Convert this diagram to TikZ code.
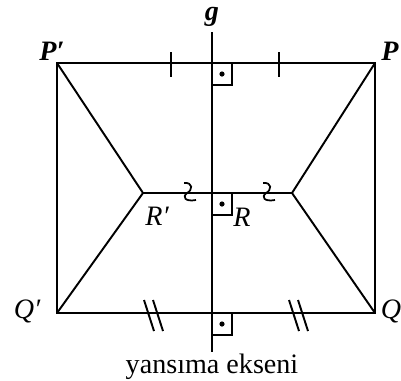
\documentclass[tikz,border=0pt]{standalone}
\usepackage{fontspec}
\setmainfont{Liberation Serif}
\usepackage{tikz}
\usetikzlibrary{calc}
\tikzset{
  edge/.style={line width=1.1pt},
  lbl/.style={font=\fontsize{16}{18}\selectfont\itshape,inner sep=0pt},
  blbl/.style={lbl,font=\fontsize{16}{18}\selectfont\bfseries\itshape},
  rbox/.style={line width=.8pt}
}
\newcommand{\perpmark}[1]{%
  \draw[rbox] (#1) rectangle ++(20,22);
  \fill ($(#1)+(10,11)$) circle (2.6);}
\newcommand{\eqwiggle}[1]{%
  \draw[line width=1pt] ($(#1)+(-4,-10)$) .. controls ($(#1)+(5,-11)$) and ($(#1)+(5,-3)$) .. ($(#1)+(-1,0)$)
    .. controls ($(#1)+(-6,4)$) and ($(#1)+(-3,9)$) .. ($(#1)+(8,7)$);}
\begin{document}
\begin{tikzpicture}[x=.02cm,y=-.02cm]
    \useasboundingbox (0,0) rectangle (401,380);
    \coordinate (P1) at (57,63); \coordinate (P) at (375,63);
    \coordinate (Q1) at (57,313); \coordinate (Q) at (375,313);
    \coordinate (R1) at (143,193); \coordinate (R) at (292,193);
    \coordinate (gtop) at (212,32); \coordinate (gbot) at (212,352);
    \coordinate (A) at (212,63); \coordinate (B) at (212,193); \coordinate (C) at (212,313);
    % outline
    \draw[edge] (P1)--(P)--(Q)--(Q1)--cycle;
    \draw[edge] (P1)--(R1)--(Q1);
    \draw[edge] (P)--(R)--(Q);
    \draw[edge] (R1)--(R);
    \draw[edge] (gtop)--(gbot);
    % right angles
    \perpmark{A} \perpmark{B} \perpmark{C}
    % equal marks
    \foreach \x in {171,279}{\draw[edge] (\x,52)--(\x,77);}
    \foreach \x in {144,153,289,298}{\draw[edge] (\x,300)--(\x+10,331);}
    \eqwiggle{188,193} \eqwiggle{267,193}
    % labels
    \node[blbl] (gl) at (212,17) {g};
    \node[blbl] (P1l) at (52,51) {P′};
    \node[blbl] (Pl) at (390,51) {P};
    \node[lbl] (Q1l) at (27,311) {Q′};
    \node[lbl] (Ql) at (391,311) {Q};
    \node[lbl] (R1l) at (157,216) {R′};
    \node[lbl] (Rl) at (242,217) {R};
    \node[font=\fontsize{16}{18}\selectfont,inner sep=0pt] (ax) at (212,367) {yansıma ekseni};
  \end{tikzpicture}
\end{document}
